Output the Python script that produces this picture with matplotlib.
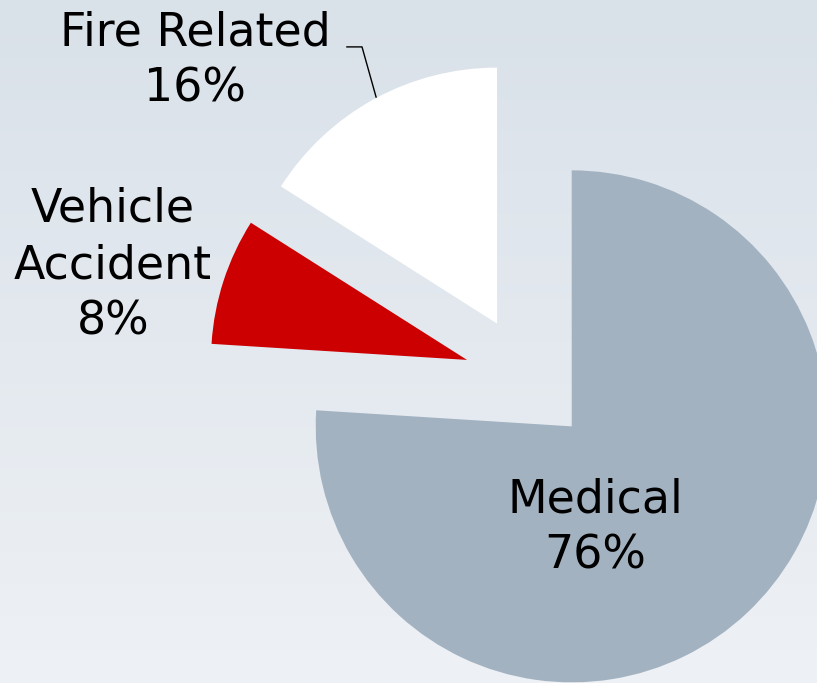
import matplotlib
matplotlib.use("Agg")
import matplotlib.pyplot as plt
import numpy as np
from matplotlib.colors import LinearSegmentedColormap

categories = ["Medical", "Vehicle\nAccident", "Fire Related"]
values = [76, 8, 16]
colors = ["#A3B2C1", "#CC0000", "#FFFFFF"]
explode = [0.25, 0.25, 0.25]

W, H = 817, 683
fig = plt.figure(figsize=(W / 100, H / 100), dpi=100)

# background gradient
bg = fig.add_axes([0, 0, 1, 1], zorder=0)
cmap = LinearSegmentedColormap.from_list("bg", ["#EEF1F5", "#D9E1E9"])
grad = np.linspace(0, 1, 256).reshape(-1, 1)
bg.imshow(grad, aspect="auto", cmap=cmap, origin="lower", extent=[0, 1, 0, 1])
bg.axis("off")

ax = fig.add_axes([0, 0, 1, 1], zorder=1)
ax.patch.set_alpha(0)
wedges, _ = ax.pie(values, colors=colors, explode=explode, startangle=90,
                   counterclock=False, radius=1.0,
                   wedgeprops=dict(linewidth=0))

cx, cy, r = 527.9, 379.7, 256.0
ax.set_xlim(-cx / r, (W - cx) / r)
ax.set_ylim(-(H - cy) / r, cy / r)
ax.set_aspect("equal")
ax.axis("off")

fs = 33
label_pos = [(0.262, -0.578), (-1.621, 0.446), (-1.30, 1.245)]
for name, val, (x, y) in zip(categories, values, label_pos):
    ax.text(x, y, f"{name}\n{val}%", ha="center", va="center",
            fontsize=fs, color="black", linespacing=1.32,
            family="DejaVu Sans")

# leader line for Fire Related
ax.plot([-0.707, -0.648, -0.593], [1.30, 1.30, 1.104], color="black", lw=1.0)

fig.savefig("out.png", dpi=100)
